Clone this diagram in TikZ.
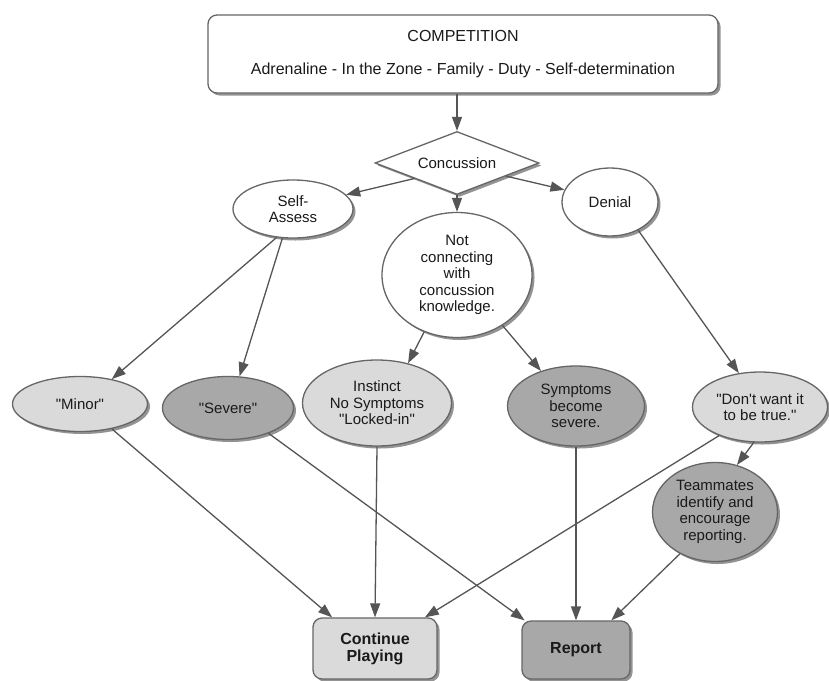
\documentclass[tikz,border=0pt]{standalone}
\usepackage{fontspec}
\setmainfont{Liberation Sans}
\usetikzlibrary{shapes.geometric,arrows.meta,shadows}
\definecolor{edgec}{HTML}{555555}
\definecolor{bordc}{HTML}{666666}
\definecolor{lightf}{HTML}{DADADA}
\definecolor{darkf}{HTML}{A8A8A8}
\definecolor{shadc}{HTML}{888888}
\definecolor{txtc}{HTML}{1A1A1A}
\newcommand{\dq}{\textquotedbl}
\tikzset{
  shad/.style={drop shadow={shadow xshift=2.5pt, shadow yshift=-2.5pt, fill=shadc, opacity=0.9}},
  ell/.style={ellipse, draw=bordc, line width=1.3pt, inner sep=0pt, align=center,
    font=\fontsize{15}{16.5}\selectfont, text=txtc, shad},
  rbox/.style={rectangle, rounded corners=9pt, draw=bordc, line width=1.3pt, inner sep=0pt,
    align=center, text=txtc, shad},
  dia/.style={diamond, draw=bordc, line width=1.3pt, inner sep=0pt, aspect=2.6, fill=white,
    font=\fontsize{15}{16.5}\selectfont, text=txtc, shad},
  arr/.style={draw=edgec, line width=1.3pt, -{Triangle[length=14pt,width=10pt]}}
}
\begin{document}
\begin{tikzpicture}[x=1pt,y=-1pt]
\useasboundingbox (0,0) rectangle (829,680);
\fill[white] (0,0) rectangle (829,680);

\node[rbox, fill=white, minimum width=510pt, minimum height=78pt,
  font=\fontsize{16}{18}\selectfont] (comp) at (463,54)
  {COMPETITION\\[15pt]Adrenaline - In the Zone - Family - Duty - Self-determination};

\node[dia, minimum width=164pt, minimum height=63pt] (conc) at (457,163) {Concussion};

\node[ell, fill=white, minimum width=120pt, minimum height=58pt] (sa) at (293,209) {Self-\\Assess};
\node[ell, fill=white, minimum width=150pt, minimum height=125pt] (nc) at (457,275)
  {Not\\connecting\\with\\concussion\\knowledge.};
\node[ell, fill=white, minimum width=96pt, minimum height=68pt] (den) at (610,202) {Denial};

\node[ell, fill=lightf, minimum width=135pt, minimum height=55pt] (minor) at (80,404) {\dq Minor\dq};
\node[ell, fill=darkf, minimum width=131pt, minimum height=63pt] (severe) at (228,408) {\dq Severe\dq};
\node[ell, fill=lightf, minimum width=149pt, minimum height=86pt] (inst) at (377,403)
  {Instinct\\No Symptoms\\\dq Locked-in\dq};
\node[ell, fill=darkf, minimum width=137pt, minimum height=80pt] (symp) at (576,406)
  {Symptoms\\become\\severe.};
\node[ell, fill=lightf, minimum width=135pt, minimum height=70pt] (dont) at (760,407)
  {\dq Don\textquotesingle t want it\\to be true.\dq};
\node[ell, fill=darkf, minimum width=125pt, minimum height=99pt] (team) at (715,512)
  {Teammates\\identify and\\encourage\\reporting.};

\node[rbox, fill=lightf, minimum width=124pt, minimum height=61pt,
  font=\fontsize{16}{17}\selectfont\bfseries] (cont) at (375,648.5) {Continue\\Playing};
\node[rbox, fill=darkf, minimum width=108pt, minimum height=58pt,
  font=\fontsize{16}{17}\selectfont\bfseries] (rep) at (576,650) {Report};

\draw[arr] (conc.north |- comp.south) -- (conc.north);
\draw[arr] (conc.200) -- (sa.15);
\draw[arr] (conc.south) -- (nc.north);
\draw[arr] (conc.-15) -- (den.165);

\draw[arr] (sa.240) -- (minor.38);
\draw[arr] (sa.250) -- (severe.70);
\draw[arr] (nc.240) -- (inst.52);
\draw[arr] (nc.-48) -- (symp.135);
\draw[arr] (den.-45) -- (dont.122);
\draw[arr] (dont.-100) -- (team.65);

\draw[arr] (minor.-38) -- (cont.144);
\draw[arr] (inst.south) -- (cont.north);
\draw[arr] (dont.-145) -- (cont.32);
\draw[arr] (severe.-32) -- (rep.150);
\draw[arr] (symp.south) -- (rep.north);
\draw[arr] (team.-130) -- (rep.40);
\end{tikzpicture}
\end{document}
